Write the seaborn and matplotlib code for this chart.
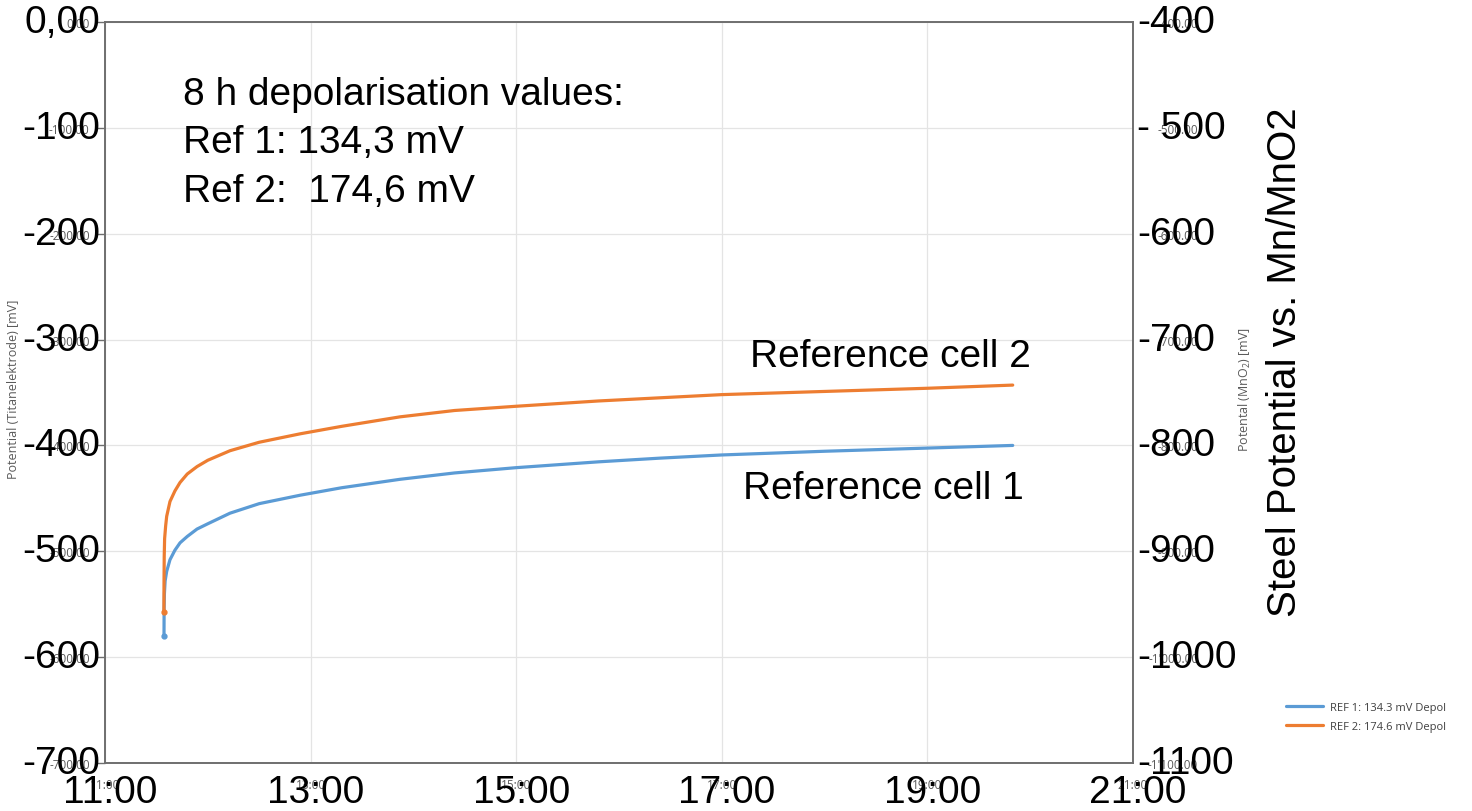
import matplotlib
matplotlib.use("Agg")
import matplotlib.pyplot as plt
import matplotlib.transforms as mtransforms
from matplotlib.lines import Line2D
import seaborn as sns
import pandas as pd

# ---------------- data ----------------
ref1_time = [11.574, 11.575, 11.578, 11.585, 11.60, 11.632, 11.68, 11.73, 11.80, 11.895,
             12.0, 12.216, 12.5, 12.9, 13.3, 13.87, 14.4, 15.0, 15.8, 16.4, 17.0, 18.0,
             19.0, 19.83]
ref1_mv = [-580, -555, -540, -528, -519, -508, -499, -492, -486, -479,
           -474, -464, -455, -447, -440, -432, -426, -421, -415.5, -412, -409, -405.5,
           -402.5, -400]

ref2_time = [11.573, 11.574, 11.576, 11.580, 11.59, 11.60, 11.632, 11.68, 11.73, 11.80,
             11.895, 12.0, 12.216, 12.5, 12.9, 13.3, 13.87, 14.4, 15.0, 15.8, 16.4, 17.0,
             18.0, 19.0, 19.83]
ref2_mv = [-557, -530, -505, -488, -476, -467, -453, -443, -435, -427,
           -420, -414, -405, -397, -389, -382, -373, -367, -363, -358, -355, -352,
           -349, -346, -343]

series_names = ["REF 1: 134.3 mV Depol", "REF 2: 174.6 mV Depol"]
series_colors = ["#5B9BD5", "#ED7D31"]

left_ticks = [0, -100, -200, -300, -400, -500, -600, -700]
left_small_labels = ["0.00", "-100.00", "-200.00", "-300.00", "-400.00", "-500.00", "-600.00", "-700.00"]
left_big_labels = ["0,00", "-100", "-200", "-300", "-400", "-500", "-600", "-700"]

right_ticks = [-400, -500, -600, -700, -800, -900, -1000, -1100]
right_small_labels = ["-400.00", "-500.00", "-600.00", "-700.00", "-800.00", "-900.00", "-1'000.00", "-1'100.00"]
right_big_labels = ["-400", "- 500", "-600", "-700", "-800", "-900", "-1000", "-1100"]

x_ticks = [11, 13, 15, 17, 19, 21]
x_labels = ["11:00", "13:00", "15:00", "17:00", "19:00", "21:00"]

note_lines = ["8 h depolarisation values:", "Ref 1: 134,3 mV", "Ref 2:  174,6 mV"]
cell_labels = ["Reference cell 2", "Reference cell 1"]

# ---------------- style ----------------
sns.set_style("white")
plt.rcParams["font.family"] = ["Liberation Sans", "DejaVu Sans"]
plt.rcParams["mathtext.default"] = "regular"

W, H = 1472, 812
fig = plt.figure(figsize=(W / 100, H / 100), dpi=100)
L, R, T, B = 105, 1133, 23, 764
ax = fig.add_axes([L / W, 1 - B / H, (R - L) / W, (B - T) / H])

df = pd.concat([
    pd.DataFrame({"time": ref1_time, "mv": ref1_mv, "series": series_names[0]}),
    pd.DataFrame({"time": ref2_time, "mv": ref2_mv, "series": series_names[1]}),
])
sns.lineplot(data=df, x="time", y="mv", hue="series", palette=series_colors,
             estimator=None, sort=False, linewidth=2.3, ax=ax, legend=False)
for ln in ax.get_lines():
    ln.set_solid_joinstyle("round")
    ln.set_solid_capstyle("round")
# start dots
ax.plot(ref1_time[0], ref1_mv[0], "o", color=series_colors[0], ms=3.5)
ax.plot(ref2_time[0], ref2_mv[0], "o", color=series_colors[1], ms=3.5)

ax.set_xlim(11, 21)
ax.set_ylim(-700, 0)
ax.grid(True, color="#e4e4e4", lw=0.9)
ax.set_axisbelow(True)

small_font = dict(family=["Open Sans", "DejaVu Sans"], size=8.5, color="#595959")

ax.set_xticks(x_ticks)
ax.set_xticklabels(x_labels, **small_font)
ax.set_yticks(left_ticks)
ax.set_yticklabels(left_small_labels, **small_font)
ax.tick_params(axis="both", direction="out", length=6, width=1, color="#6e6e6e", pad=5)
ax.set_xlabel("")
ax.set_ylabel("Potential (Titanelektrode) [mV]", family=["Open Sans", "DejaVu Sans"],
              size=9, color="#595959")
ax.yaxis.set_label_coords(-0.0827, 0.505)

for s in ax.spines.values():
    s.set_color("#6e6e6e")
    s.set_linewidth(1.2)

ax2 = ax.twinx()
ax2.set_ylim(-1100, -400)
ax2.set_yticks(right_ticks)
ax2.set_yticklabels(right_small_labels, **small_font)
ax2.tick_params(axis="y", length=0, pad=47)
for lab in ax2.get_yticklabels():
    lab.set_horizontalalignment("right")
ax2.set_ylabel("Potental (MnO$_2$) [mV]", family=["Open Sans", "DejaVu Sans"],
               size=9, color="#595959")
ax2.yaxis.set_label_coords(1.101, 0.505)
for s in ax2.spines.values():
    s.set_color("#6e6e6e")
    s.set_linewidth(1.2)

# ---------------- big overlaid tick labels ----------------
big = dict(size=28, color="black")
tl = mtransforms.offset_copy(ax.get_yaxis_transform(), fig=fig, x=-5, y=0, units="dots")
for v, t in zip(left_ticks, left_big_labels):
    ax.text(0, v, t, transform=tl, ha="right", va="center", **big)

tr = mtransforms.offset_copy(ax2.get_yaxis_transform(), fig=fig, x=4, y=0, units="dots")
for v, t in zip(right_ticks, right_big_labels):
    ax2.text(1, v, t, transform=tr, ha="left", va="center", **big)

tx = mtransforms.offset_copy(ax.get_xaxis_transform(), fig=fig, x=5, y=-29, units="dots")
for v, t in zip(x_ticks, x_labels):
    ax.text(v, 0, t, transform=tx, ha="center", va="center", **big)

# ---------------- annotations ----------------
note_x = 11.76
for i, line in enumerate(note_lines):
    ax.text(note_x, -77.5 - 45.6 * i, line, ha="left", va="baseline", size=28, color="black")

ax.text(17.27, -325, cell_labels[0], ha="left", va="baseline", size=28, color="black")
ax.text(17.21, -450, cell_labels[1], ha="left", va="baseline", size=28, color="black")

fig.text(1285 / W, 1 - 362.5 / H, "Steel Potential vs. Mn/MnO2", rotation=90,
         ha="center", va="center", size=29, color="black")

# ---------------- legend ----------------
handles = [Line2D([], [], color=c, lw=2.3) for c in series_colors]
fig.legend(handles, series_names, loc="center left", bbox_to_anchor=(1276 / W, 1 - 718 / H),
           frameon=False, prop={"family": ["Open Sans", "DejaVu Sans"], "size": 8},
           labelcolor="#404040", handlelength=3.3, handletextpad=0.7, labelspacing=0.75)

fig.savefig("out.png", dpi=100)
